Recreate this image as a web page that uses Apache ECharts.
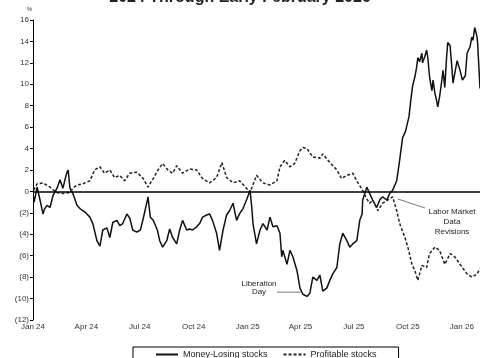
<!DOCTYPE html>
<html><head><meta charset="utf-8">
<script src="https://cdn.jsdelivr.net/npm/echarts@6/dist/echarts.min.js"></script>
<style>html,body{margin:0;padding:0;background:#fff}#c{width:480px;height:358px}</style>
</head><body><div id="c"></div>
<script>
const titleText = '2024 Through Early February 2026';
const seriesNames = ['Money-Losing stocks', 'Profitable stocks'];
const xTickDates = ['2024-01-01','2024-04-01','2024-07-01','2024-10-01','2025-01-01','2025-04-01','2025-07-01','2025-10-01','2026-01-01'];
const xTickLabels = ['Jan 24','Apr 24','Jul 24','Oct 24','Jan 25','Apr 25','Jul 25','Oct 25','Jan 26'];

const losingDates = ['2024-01-02','2024-01-03','2024-01-08','2024-01-13','2024-01-18','2024-01-21','2024-01-25','2024-01-30','2024-02-04','2024-02-11','2024-02-16','2024-02-21','2024-02-25','2024-02-28','2024-03-01','2024-03-04','2024-03-09','2024-03-16','2024-03-21','2024-03-29','2024-04-07','2024-04-12','2024-04-19','2024-04-24','2024-04-29','2024-05-06','2024-05-11','2024-05-16','2024-05-23','2024-05-28','2024-06-02','2024-06-09','2024-06-14','2024-06-19','2024-06-26','2024-07-02','2024-07-07','2024-07-14','2024-07-15','2024-07-19','2024-07-24','2024-07-31','2024-08-04','2024-08-09','2024-08-16','2024-08-21','2024-08-26','2024-09-02','2024-09-07','2024-09-12','2024-09-19','2024-09-24','2024-09-29','2024-10-06','2024-10-11','2024-10-16','2024-10-23','2024-10-28','2024-11-02','2024-11-09','2024-11-14','2024-11-20','2024-11-26','2024-12-01','2024-12-07','2024-12-13','2024-12-18','2024-12-24','2024-12-30','2025-01-05','2025-01-08','2025-01-10','2025-01-16','2025-01-22','2025-01-27','2025-02-03','2025-02-08','2025-02-13','2025-02-20','2025-02-25','2025-02-28','2025-03-02','2025-03-09','2025-03-14','2025-03-19','2025-03-26','2025-03-27','2025-03-31','2025-04-05','2025-04-12','2025-04-17','2025-04-22','2025-04-29','2025-05-04','2025-05-09','2025-05-16','2025-05-21','2025-05-26','2025-06-02','2025-06-07','2025-06-12','2025-06-19','2025-06-24','2025-06-29','2025-07-06','2025-07-11','2025-07-15','2025-07-16','2025-07-23','2025-07-28','2025-08-02','2025-08-09','2025-08-14','2025-08-19','2025-08-26','2025-08-31','2025-09-05','2025-09-12','2025-09-17','2025-09-22','2025-09-27','2025-10-03','2025-10-06','2025-10-09','2025-10-13','2025-10-16','2025-10-18','2025-10-21','2025-10-25','2025-10-26','2025-10-30','2025-11-02','2025-11-04','2025-11-07','2025-11-11','2025-11-13','2025-11-16','2025-11-19','2025-11-21','2025-11-24','2025-11-28','2025-11-30','2025-12-03','2025-12-06','2025-12-08','2025-12-12','2025-12-15','2025-12-17','2025-12-24','2025-12-29','2026-01-02','2026-01-07','2026-01-10','2026-01-15','2026-01-18','2026-01-20','2026-01-23','2026-01-27','2026-01-28','2026-02-01'];
const losingValues = [-0.5,-1.0,0.4,-0.8,-2.1,-1.6,-1.3,-1.5,-0.4,0.3,1.1,0.3,1.2,1.8,2.0,0.3,-0.2,-1.3,-1.6,-1.9,-2.4,-3.0,-4.6,-5.1,-3.6,-3.4,-4.3,-2.9,-2.7,-3.2,-3.0,-2.1,-2.5,-3.6,-3.8,-3.6,-2.5,-0.8,-0.5,-2.4,-2.7,-3.6,-4.6,-5.2,-4.6,-3.5,-4.3,-4.9,-3.6,-2.7,-3.6,-3.5,-3.6,-3.3,-3.0,-2.4,-2.2,-2.1,-2.7,-3.9,-5.5,-3.6,-2.2,-1.8,-1.1,-2.7,-2.1,-1.6,-0.8,0.1,-1.5,-3.0,-4.9,-3.6,-3.0,-3.6,-2.4,-3.3,-3.2,-3.9,-6.1,-5.5,-6.8,-5.5,-6.1,-7.4,-7.7,-9.0,-9.6,-9.8,-9.5,-8.0,-8.3,-7.8,-9.3,-9.0,-8.3,-7.7,-7.1,-4.9,-3.9,-4.6,-5.2,-4.9,-4.6,-2.7,-2.1,-0.8,0.4,-0.2,-0.8,-1.5,-0.8,-0.5,-0.8,-0.2,0.1,1.0,2.9,5.0,5.6,7.0,8.5,9.8,10.7,11.6,12.5,12.1,12.9,12.0,12.6,13.2,12.5,10.7,9.4,10.4,9.2,8.5,7.9,8.8,10.4,11.3,9.7,12.5,13.9,13.6,11.6,10.1,12.2,11.3,10.4,10.8,12.9,13.5,14.4,14.1,15.3,14.4,13.8,9.6];

const profitDates = ['2024-01-02','2024-01-08','2024-01-18','2024-01-30','2024-02-10','2024-02-21','2024-03-04','2024-03-09','2024-03-16','2024-03-26','2024-04-07','2024-04-15','2024-04-24','2024-05-02','2024-05-11','2024-05-19','2024-05-28','2024-06-05','2024-06-14','2024-06-26','2024-07-07','2024-07-15','2024-07-24','2024-08-01','2024-08-09','2024-08-18','2024-08-26','2024-09-02','2024-09-12','2024-09-24','2024-10-06','2024-10-16','2024-10-28','2024-11-09','2024-11-18','2024-11-26','2024-12-07','2024-12-18','2024-12-30','2025-01-05','2025-01-16','2025-01-27','2025-02-08','2025-02-20','2025-02-25','2025-03-05','2025-03-14','2025-03-22','2025-03-31','2025-04-05','2025-04-12','2025-04-17','2025-04-22','2025-04-29','2025-05-04','2025-05-09','2025-05-21','2025-06-02','2025-06-10','2025-06-19','2025-06-29','2025-07-08','2025-07-16','2025-07-23','2025-07-28','2025-08-02','2025-08-11','2025-08-19','2025-08-28','2025-09-05','2025-09-12','2025-09-17','2025-09-26','2025-10-01','2025-10-08','2025-10-13','2025-10-18','2025-10-25','2025-11-02','2025-11-07','2025-11-16','2025-11-24','2025-12-03','2025-12-12','2025-12-20','2025-12-29','2026-01-10','2026-01-18','2026-01-27','2026-02-01'];
const profitValues = [0.1,0.7,0.8,0.4,-0.1,-0.2,-0.1,0.3,0.6,0.7,1.0,2.0,2.3,1.7,2.0,1.3,1.5,1.0,1.7,1.8,1.2,0.4,1.2,2.0,2.6,2.0,1.7,2.4,1.7,2.1,2.0,1.2,0.8,1.3,2.7,1.3,0.8,1.0,0.3,-0.1,1.5,0.8,0.6,1.0,2.3,2.9,2.3,2.6,3.8,4.1,4.0,3.6,3.2,3.2,3.1,3.5,2.7,2.0,1.2,1.5,1.7,0.8,0.1,-0.7,-1.1,-0.8,-1.8,-1.1,-0.8,-0.5,-1.8,-3.0,-4.3,-5.2,-6.8,-7.4,-8.3,-6.9,-7.1,-5.8,-5.2,-5.5,-6.8,-5.8,-6.1,-6.8,-7.7,-8.0,-7.7,-7.2];

const FONT = '"Liberation Sans", Arial, sans-serif';
const ts = s => echarts.number.parseDate(s).getTime();
const pair = (d, v) => d.map((x, i) => [ts(x), v[i]]);
const tickTs = xTickDates.map(ts);

const chart = echarts.init(document.getElementById('c'), null, {renderer: 'canvas'});
chart.setOption({
  backgroundColor: '#fff',
  animation: false,
  title: {
    text: titleText, left: 'center', top: -10, padding: 0,
    textStyle: {fontFamily: FONT, fontSize: 16, fontWeight: 'bold', color: '#222'}
  },
  grid: {left: 33, right: 0, top: 20, bottom: 38, containLabel: false},
  xAxis: {
    type: 'value', min: ts('2024-01-01'), max: ts('2026-02-01'),
    axisLine: {show: false}, axisTick: {show: false}, splitLine: {show: false},
    axisLabel: {
      customValues: tickTs, hideOverlap: false, margin: 3, showMinLabel: true, showMaxLabel: true,
      fontFamily: FONT, fontSize: 8, color: '#333',
      formatter: v => { const i = tickTs.indexOf(v); return i >= 0 ? xTickLabels[i] : ''; }
    }
  },
  yAxis: {
    type: 'value', min: -12, max: 16, interval: 2,
    axisLine: {show: true, lineStyle: {color: '#000', width: 1}},
    axisTick: {show: true, length: 3, lineStyle: {color: '#000'}},
    splitLine: {show: false},
    axisLabel: {
      margin: 4, fontFamily: FONT, fontSize: 8, color: '#333',
      formatter: v => v < 0 ? '(' + Math.abs(v) + ')' : String(v)
    }
  },
  legend: {
    left: 133, top: 347, orient: 'horizontal',
    padding: [3, 22, 8, 22], itemGap: 15, itemWidth: 22, itemHeight: 8,
    borderColor: '#000', borderWidth: 1, borderRadius: 0,
    itemStyle: {opacity: 0},
    textStyle: {fontFamily: FONT, fontSize: 9, color: '#222'},
    data: seriesNames
  },
  series: [
    {
      name: seriesNames[0], type: 'line', symbol: 'none', data: pair(losingDates, losingValues),
      lineStyle: {color: '#111', width: 1.5}, itemStyle: {color: '#111'},
      markLine: {silent: true, symbol: 'none', label: {show: false},
        lineStyle: {color: '#000', width: 1.5, type: 'solid'}, data: [{yAxis: 0}]}
    },
    {
      name: seriesNames[1], type: 'line', symbol: 'none', data: pair(profitDates, profitValues),
      lineStyle: {color: '#222', width: 1.5, type: [3, 2]}, itemStyle: {color: '#222'}
    }
  ]
});

const lib = chart.convertToPixel({gridIndex: 0}, [ts('2025-04-03'), -9.4]);
const lab = chart.convertToPixel({gridIndex: 0}, [ts('2025-09-12'), -0.7]);
chart.setOption({
  graphic: [
    {type: 'text', left: 27, top: 6, style: {text: '%', fontFamily: FONT, fontSize: 6, fill: '#333'}},
    {type: 'text', x: 259, y: 280, style: {text: 'Liberation\nDay', align: 'center', verticalAlign: 'top',
      fontFamily: FONT, fontSize: 8, lineHeight: 8, fill: '#222'}},
    {type: 'line', shape: {x1: 277, y1: lib[1], x2: lib[0] - 1, y2: lib[1]}, style: {stroke: '#555', lineWidth: 0.8}},
    {type: 'text', x: 452, y: 207, style: {text: 'Labor Market\nData\nRevisions', align: 'center', verticalAlign: 'top',
      fontFamily: FONT, fontSize: 8, lineHeight: 10, fill: '#222'}},
    {type: 'line', shape: {x1: lab[0] + 1, y1: lab[1], x2: 425, y2: 208}, style: {stroke: '#555', lineWidth: 0.8}}
  ]
});
</script></body></html>
